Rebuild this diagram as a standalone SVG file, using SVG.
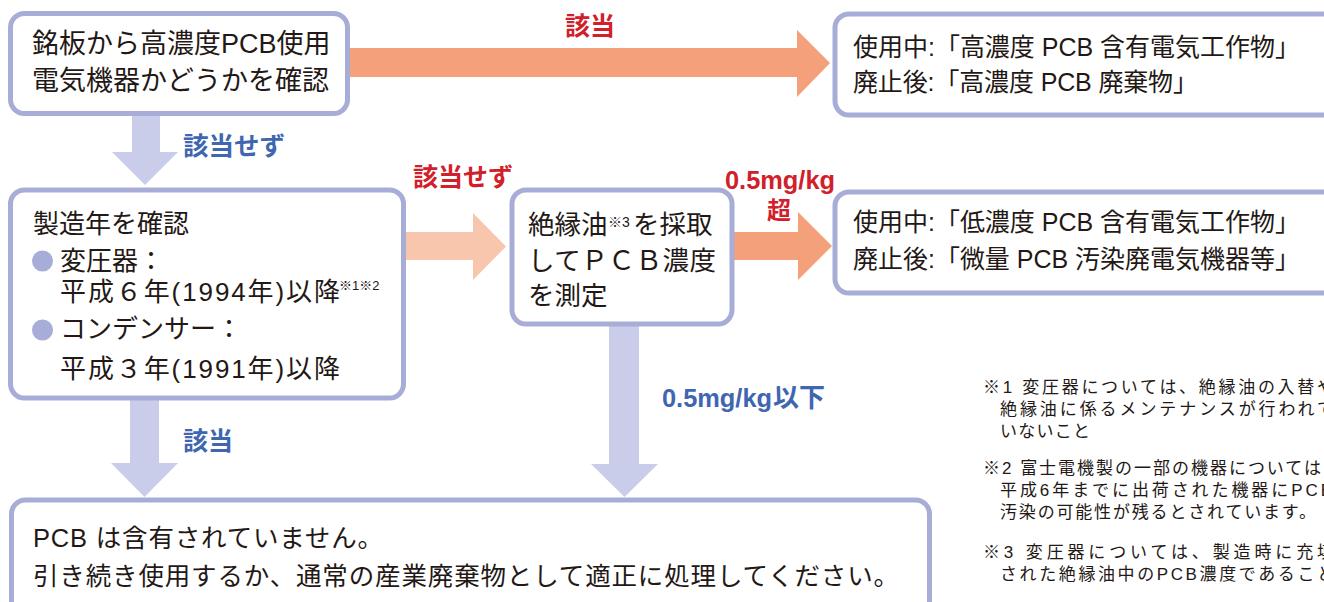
<svg xmlns="http://www.w3.org/2000/svg" width="1324" height="602" viewBox="0 0 1324 602">
<style>
.box{fill:#ffffff;stroke:#a7add6;stroke-width:5}
.t{font-family:"Liberation Sans","Noto Sans CJK JP",sans-serif;fill:#231815}
.lbl{font-family:"Liberation Sans","Noto Sans CJK JP",sans-serif;font-weight:bold}
.red{fill:#d2202a}
.blue{fill:#3f66b0}
.orange{fill:#f3a07b}
.peach{fill:#f8c6ac}
.lav{fill:#c9cde9}
.note{font-family:"Liberation Sans","Noto Sans CJK JP",sans-serif;fill:#231815;font-size:17px}
</style>
<rect width="1324" height="602" fill="#ffffff"/>
<g id="connectors">
  <polygon class="orange" points="349,48 797,48 797,30 830,63 797,97 797,77 349,77"/>
  <polygon class="peach" points="405,232 473,232 473,213 506,246.5 473,280 473,260 405,260"/>
  <polygon class="orange" points="733,232 798,232 798,212 832,246 798,280 798,260 733,260"/>
  <polygon class="lav" points="132,114 160,114 160,152 178,152 145,185 112,152 132,152"/>
  <polygon class="lav" points="130,398 159,398 159,463 178,463 144.5,497 111,463 130,463"/>
  <polygon class="lav" points="609,324 639,324 639,464 658,464 624.5,497 591,464 609,464"/>
  <text class="lbl red" x="565" y="35" font-size="25">該当</text>
  <text class="lbl blue" x="183" y="155" font-size="25.5">該当せず</text>
  <text class="lbl red" x="413" y="186" font-size="25">該当せず</text>
  <text class="lbl red" x="725" y="189" font-size="25.5" textLength="110" lengthAdjust="spacingAndGlyphs">0.5mg/kg</text>
  <text class="lbl red" x="767" y="219" font-size="24">超</text>
  <text class="lbl blue" x="183" y="450" font-size="25">該当</text>
  <text class="lbl blue" x="662" y="407" font-size="25.5" textLength="110" lengthAdjust="spacingAndGlyphs">0.5mg/kg</text>
  <text class="lbl blue" x="773" y="407" font-size="26">以下</text>
</g>
<g id="node-check-nameplate">
  <rect class="box" x="10.5" y="13.5" width="337" height="100" rx="14"/>
  <text class="t" x="32" y="53" font-size="27">銘板から高濃度PCB使用</text>
  <text class="t" x="32" y="90" font-size="27">電気機器かどうかを確認</text>
</g>
<g id="node-high-concentration">
  <rect class="box" x="835" y="14" width="520" height="101" rx="14"/>
  <text class="t" x="853" y="56" font-size="25" textLength="447" lengthAdjust="spacing">使用中:「高濃度 PCB 含有電気工作物」</text>
  <text class="t" x="853" y="91" font-size="25" textLength="345" lengthAdjust="spacing">廃止後:「高濃度 PCB 廃棄物」</text>
</g>
<g id="node-check-year">
  <rect class="box" x="10.5" y="190" width="393" height="208" rx="14"/>
  <text class="t" x="33" y="233" font-size="26">製造年を確認</text>
  <circle cx="42.5" cy="261" r="10.5" fill="#a7add6"/>
  <text class="t" x="60" y="270" font-size="26">変圧器：</text>
  <text class="t" x="60" y="301" font-size="26" textLength="280" lengthAdjust="spacing">平成６年(1994年)以降</text>
  <text class="t" x="339" y="290" font-size="13">※1※2</text>
  <circle cx="42.5" cy="330" r="10.5" fill="#a7add6"/>
  <text class="t" x="60" y="338" font-size="26">コンデンサー：</text>
  <text class="t" x="60" y="378" font-size="26" textLength="280" lengthAdjust="spacing">平成３年(1991年)以降</text>
</g>
<g id="node-measure">
  <rect class="box" x="512" y="190" width="220" height="134" rx="14"/>
  <text class="t" x="528" y="234" font-size="26.5">絶縁油</text>
  <text class="t" x="608" y="227" font-size="14">※3</text>
  <text class="t" x="633" y="234" font-size="26.5">を採取</text>
  <text class="t" x="528" y="270" font-size="26.5" textLength="188" lengthAdjust="spacing">してＰＣＢ濃度</text>
  <text class="t" x="528" y="305" font-size="26.5">を測定</text>
</g>
<g id="node-low-concentration">
  <rect class="box" x="835" y="192" width="520" height="101" rx="14"/>
  <text class="t" x="853" y="231" font-size="25" textLength="447" lengthAdjust="spacing">使用中:「低濃度 PCB 含有電気工作物」</text>
  <text class="t" x="853" y="268" font-size="25" textLength="447" lengthAdjust="spacing">廃止後:「微量 PCB 汚染廃電気機器等」</text>
</g>
<g id="node-no-pcb">
  <rect class="box" x="11.5" y="500" width="918" height="140" rx="14"/>
  <text class="t" x="33" y="547" font-size="25.5" textLength="350" lengthAdjust="spacing">PCB は含有されていません。</text>
  <text class="t" x="33" y="585" font-size="25.5" textLength="866" lengthAdjust="spacing">引き続き使用するか、通常の産業廃棄物として適正に処理してください。</text>
</g>
<g id="notes">
  <text class="note" x="983" y="393" textLength="351" lengthAdjust="spacing">※1 変圧器については、絶縁油の入替や</text>
  <text class="note" x="1000" y="415" textLength="334" lengthAdjust="spacing">絶縁油に係るメンテナンスが行われて</text>
  <text class="note" x="1000" y="437" textLength="90" lengthAdjust="spacing">いないこと</text>
  <text class="note" x="983" y="474" textLength="338" lengthAdjust="spacing">※2 富士電機製の一部の機器については</text>
  <text class="note" x="1000" y="496" textLength="332" lengthAdjust="spacing">平成6年までに出荷された機器にPCB</text>
  <text class="note" x="1000" y="518" textLength="316" lengthAdjust="spacing">汚染の可能性が残るとされています。</text>
  <text class="note" x="983" y="558" textLength="351" lengthAdjust="spacing">※3 変圧器については、製造時に充填</text>
  <text class="note" x="1000" y="580" textLength="334" lengthAdjust="spacing">された絶縁油中のPCB濃度であること</text>
</g>
</svg>
